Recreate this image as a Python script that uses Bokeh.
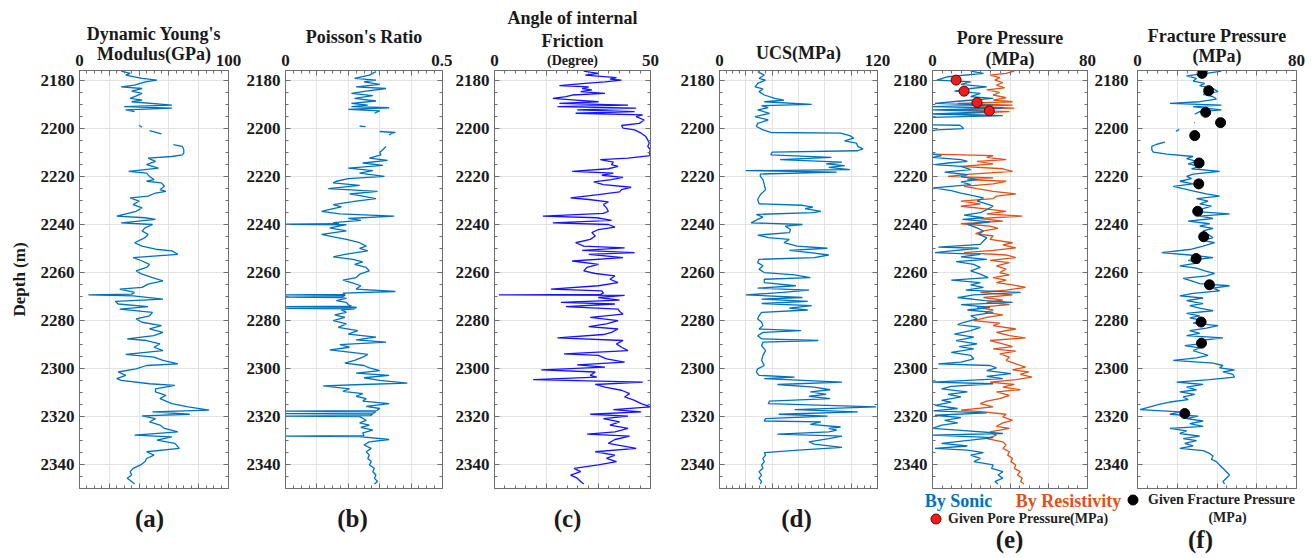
import numpy as np
from bokeh.plotting import figure
from bokeh.layouts import row, column
from bokeh.models import Range1d, LinearAxis, FixedTicker, Label, Legend, LegendItem, Title
from bokeh.embed import file_html
from bokeh.resources import INLINE

GAP = (None, None)

# ---------------- data (depth m, value) ----------------
DEPTH_TICKS = [2180, 2200, 2220, 2240, 2260, 2280, 2300, 2320, 2340]

YOUNG = [(2176.3,28),(2177.2,34),(2177.9,31),(2179.3,42),(2180.0,52),(2180.7,44),(2182.1,37),(2182.8,28),(2183.5,42),(2184.6,35),
 (2185.5,42),(2186.9,37),(2187.6,34),(2188.3,42),(2189.0,35),(2190.4,62),(2191.0,30),(2191.7,62),(2192.4,31),(2193.1,37),
 GAP,(2198.9,40),(2199.6,42),GAP,(2201.0,47),(2202.4,55),GAP,
 (2206.9,63),(2207.6,69),(2209.0,70),(2210.4,70),(2211.1,69),(2211.8,62),(2212.5,46),(2213.8,51),(2215.2,45),(2216.6,53),
 (2218.0,33),(2218.7,45),(2220.1,47),(2221.4,50),(2222.1,45),(2222.8,55),(2224.2,57),(2225.6,54),(2226.3,58),(2227.0,51),
 (2228.3,46),(2229.0,34),(2230.4,40),(2231.8,36),(2233.2,42),(2234.6,38),(2236.6,25),(2237.3,44),(2238.0,51),(2239.4,28),
 (2240.1,49),(2241.5,44),(2242.8,42),(2244.2,46),(2245.6,44),(2247.7,37),(2249.1,42),(2250.4,51),(2251.1,62),(2252.5,66),
 (2253.9,36),(2255.3,42),(2256.7,47),(2258.0,45),(2259.4,38),(2260.8,42),(2262.2,49),(2263.6,56),(2264.9,46),(2266.3,42),
 (2267.0,27),(2268.4,37),(2269.1,35),(2269.4,6),(2269.8,36),(2271.2,56),(2272.1,24),(2273.2,26),(2274.3,46),(2275.3,27),(2276.7,49),
 (2278.1,47),(2279.4,38),(2280.8,42),(2282.2,55),(2283.6,47),(2285.0,56),(2286.4,50),(2287.7,32),(2288.4,45),(2289.8,54),
 (2291.2,50),(2292.6,56),(2294.2,31),(2295.3,50),(2296.7,56),(2298.1,66),(2298.8,45),(2300.2,38),(2301.5,26),(2302.9,31),
 (2304.3,25),(2305.0,28),(2306.4,47),(2307.1,64),(2308.5,51),(2309.8,51),(2311.2,58),(2312.6,54),(2314.7,62),(2316.0,73),
 (2317.4,87),(2318.1,49),(2319.1,74),(2319.8,42),(2320.9,51),(2322.3,47),(2323.6,54),(2325.0,57),(2326.4,66),(2327.8,37),
 (2328.5,62),(2329.9,52),(2331.2,64),(2333.3,67),(2334.7,45),(2336.1,50),(2337.5,45),(2338.8,44),(2340.2,41),(2341.6,36),
 (2343.0,34),(2344.4,35),(2345.7,32),(2347.1,35),(2348.1,37)]

POISSON = [(2176.5,.288),(2177.9,.267),(2179.3,.22),(2180.0,.288),(2180.7,.25),(2181.8,.30),(2182.8,.225),(2183.5,.32),(2184.6,.257),(2185.5,.21),
 (2186.5,.278),(2187.6,.22),(2188.7,.288),(2189.7,.21),(2190.4,.262),(2191.0,.21),(2191.5,.33),(2192.2,.20),(2192.8,.30),(2193.8,.283),
 GAP,(2199.2,.236),(2199.4,.255),GAP,(2201.4,.30),(2201.8,.35),(2202.1,.34),(2202.8,.33),GAP,
 (2207.6,.32),(2209.0,.31),(2210.0,.30),(2211.1,.304),(2212.5,.267),(2213.4,.325),(2214.5,.246),(2215.5,.31),(2216.6,.20),(2217.7,.278),
 (2218.7,.236),(2220.1,.315),(2221.0,.20),(2222.1,.162),(2222.8,.152),(2223.8,.236),(2225.2,.136),(2226.3,.293),(2227.4,.204),(2228.3,.246),
 (2229.3,.288),(2230.4,.225),(2231.8,.152),(2232.8,.178),(2233.5,.152),(2234.6,.115),(2235.7,.173),(2236.6,.346),(2237.6,.20),(2238.4,.24),
 (2239.3,.152),(2239.8,.17),(2240.0,0.0),(2240.2,.194),(2241.5,.141),(2242.8,.194),(2244.2,.115),(2245.3,.152),(2246.3,.194),(2247.7,.236),
 (2249.1,.257),(2250.0,.236),(2251.1,.262),(2252.5,.189),(2253.6,.152),(2254.6,.215),(2255.7,.246),(2256.7,.22),(2258.0,.257),(2259.4,.267),
 (2260.8,.236),(2262.2,.225),(2263.3,.183),(2264.3,.21),(2265.6,.24),(2267.0,.225),(2268.0,.35),(2268.7,.183),(2269.2,.19),(2269.4,0.0),
 (2269.6,.19),(2270.1,.18),(2270.3,0.0),(2270.5,.173),(2270.9,.194),(2271.8,.162),(2272.5,.194),(2273.5,.20),(2274.1,.21),(2274.3,0.0),
 (2274.5,.225),(2274.8,.225),(2275.0,0.0),(2275.2,.22),(2275.7,.178),(2276.7,.194),(2277.7,.157),(2278.8,.189),(2280.1,.152),(2281.5,.194),
 (2282.9,.168),(2284.3,.23),(2285.7,.20),(2287.0,.288),(2288.1,.225),(2289.1,.32),(2290.1,.173),(2291.2,.204),(2292.3,.141),(2293.3,.21),
 (2294.2,.262),(2295.3,.246),(2296.7,.22),(2297.8,.189),(2298.8,.25),(2299.8,.267),(2300.9,.30),(2302.0,.225),(2302.9,.33),(2303.9,.25),
 (2305.0,.30),(2306.1,.388),(2306.7,.246),(2307.3,.12),(2308.5,.204),(2309.6,.183),(2310.5,.246),(2311.6,.225),(2312.6,.257),(2313.6,.246),
 (2314.7,.33),(2315.8,.257),(2316.7,.30),(2317.6,.29),(2317.8,0.0),(2318.0,.288),(2318.6,.28),(2318.8,0.0),(2319.0,.278),(2319.7,.27),
 (2319.9,0.0),(2320.1,.236),(2321.6,.257),(2322.7,.236),(2323.6,.267),(2324.6,.24),(2325.7,.278),(2326.8,.246),(2328.0,.25),(2328.2,0.0),
 (2328.4,.236),(2329.6,.33),(2330.6,.267),(2331.9,.25),(2333.3,.273),(2334.7,.257),(2336.1,.267),(2337.5,.262),(2338.8,.273),(2340.2,.267),
 (2341.6,.283),(2343.0,.278),(2344.4,.288),(2345.7,.283),(2347.1,.293),(2348.1,.283)]

FRICTION = [(2176.3,28.6),(2177.2,33.3),(2177.9,29.1),(2179.0,39.1),(2179.6,37.0),(2180.0,40.7),(2180.7,35.4),(2181.4,29.1),(2182.3,20.8),(2182.8,30.2),
 (2183.5,28.1),(2184.1,31.2),(2184.8,27.6),(2185.5,35.4),(2186.2,24.9),(2186.9,22.9),(2187.6,18.7),(2188.3,26.0),(2189.0,33.3),(2189.7,20.8),
 (2190.4,42.8),(2191.0,20.2),(2191.7,45.4),(2192.4,26.5),(2193.1,44.9),(2193.8,26.0),(2194.5,47.5),(2195.2,45.4),(2196.6,48.0),(2198.0,46.4),
 (2198.9,40.7),(2200.0,41.2),(2200.7,44.9),(2202.1,47.0),(2203.5,48.5),(2204.9,49.1),(2206.2,49.6),(2207.6,49.1),(2209.0,50.0),(2210.4,49.6),
 (2211.4,50.0),(2212.5,42.8),(2213.1,33.9),(2214.1,38.1),(2215.2,37.5),(2215.9,39.6),(2216.9,36.5),(2218.0,24.9),(2218.7,38.1),(2219.6,34.4),
 (2220.5,41.2),(2221.4,37.5),(2222.4,31.8),(2223.5,34.9),(2224.6,43.8),(2225.6,40.7),(2226.5,40.1),(2227.7,33.3),(2229.0,24.4),(2229.7,30.2),
 (2230.7,36.5),(2231.8,34.9),(2233.2,35.9),(2234.6,36.5),(2235.5,34.9),(2236.6,15.5),(2237.3,32.8),(2238.4,37.5),(2239.4,18.7),(2240.1,36.5),
 (2241.2,38.6),(2242.2,33.3),(2243.5,31.2),(2244.9,32.3),(2246.3,30.7),(2247.7,26.0),(2249.1,28.6),(2249.8,41.7),(2250.9,28.1),(2251.8,44.9),
 (2252.5,30.2),(2253.9,41.2),(2255.3,24.9),(2256.7,33.3),(2258.0,29.6),(2259.4,28.6),(2260.5,32.3),(2261.5,38.6),(2262.9,37.0),(2264.3,39.6),
 (2265.6,33.3),(2267.0,18.1),(2267.7,34.4),(2268.7,34.9),(2269.2,34.0),(2269.4,1.4),(2269.6,41.7),(2270.5,33.3),(2271.6,40.1),(2272.5,21.3),(2273.2,38.6),
 (2274.3,22.9),(2275.3,39.6),(2276.3,40.1),(2277.4,41.2),(2278.8,30.7),(2280.1,39.6),(2281.5,35.9),(2282.6,30.2),(2283.6,39.6),(2285.0,37.5),
 (2285.9,34.9),(2287.3,20.2),(2288.4,41.2),(2289.8,39.1),(2291.2,40.7),(2292.6,42.8),(2294.0,22.3),(2294.6,33.3),(2296.0,35.9),(2297.4,41.7),
 (2298.5,26.5),(2299.5,35.4),(2300.6,15.0),(2301.5,32.3),(2302.9,30.7),(2303.6,32.8),(2304.7,12.4),(2305.7,47.5),(2306.7,32.3),(2307.8,35.4),
 (2309.1,40.7),(2310.5,43.3),(2311.9,41.7),(2313.3,44.9),(2314.7,47.0),(2316.0,50.0),(2317.2,38.1),(2318.1,47.0),(2319.1,30.7),(2319.9,42.8),
 (2320.9,34.9),(2322.3,40.1),(2323.6,37.0),(2325.0,42.8),(2326.4,38.6),(2327.4,29.7),(2328.2,43.3),(2329.6,38.6),(2331.2,36.5),(2333.3,45.4),
 (2334.7,32.3),(2336.1,38.6),(2337.5,35.9),(2338.8,39.1),(2340.2,33.3),(2341.6,25.5),(2343.0,27.6),(2344.4,24.4),(2345.7,26.5),(2347.1,27.6),
 (2348.1,28.6)]

UCS = [(2176.5,29),(2177.9,34),(2179.3,30),(2180.0,35),(2181.4,29),(2182.8,27),(2183.7,33),(2184.8,30),(2186.2,34),(2187.6,42),
 (2188.3,49),(2189.0,34),(2190.1,70),(2190.6,32),(2191.5,37),(2192.4,29),(2193.8,38),(2195.2,27),(2196.6,37),(2198.0,29),
 (2199.3,28),(2200.7,33),(2201.8,39),(2202.1,92),(2203.1,99),(2204.2,102),(2205.3,95),(2206.2,104),(2207.6,105),(2208.6,109),
 (2209.4,105),(2210.0,40),(2211.1,39),(2212.2,85),(2213.1,46),(2214.1,93),(2214.9,81),(2215.6,95),(2216.3,83),(2217.3,99),
 (2217.7,20),(2218.3,89),(2219.1,31),(2220.1,31),(2221.4,33),(2223.5,34),(2225.6,35),(2227.7,31),(2229.7,29),(2231.5,30),
 (2232.1,63),(2232.9,71),(2233.5,65),(2234.6,77),(2235.2,71),(2235.9,28),(2237.0,33),(2238.0,29),(2239.4,24),(2240.1,63),
 (2240.8,50),(2242.2,54),(2243.5,53),(2244.5,29),(2245.6,37),(2246.3,53),(2247.7,49),(2249.1,59),(2250.0,82),(2250.9,53),
 (2251.8,69),(2252.8,83),(2253.9,72),(2254.6,30),(2256.0,29),(2257.3,33),(2258.7,30),(2260.1,34),(2261.1,57),(2262.2,69),
 (2262.9,34),(2264.3,34),(2265.6,58),(2266.6,29),(2267.4,68),(2268.4,48),(2269.4,20),(2270.5,63),(2271.2,32),(2272.1,67),
 (2273.0,32),(2273.9,70),(2274.9,53),(2275.7,67),(2276.7,32),(2278.1,30),(2279.4,29),(2280.8,32),(2282.2,33),(2283.6,30),
 (2284.3,62),(2285.0,33),(2286.4,29),(2287.7,32),(2288.4,75),(2289.1,33),(2290.5,32),(2292.6,35),(2294.6,33),(2296.7,32),
 (2298.8,34),(2300.2,29),(2301.5,28),(2302.9,30),(2303.6,57),(2304.3,34),(2305.7,93),(2306.7,44),(2307.8,72),(2308.9,84),
 (2309.8,69),(2310.8,81),(2311.6,68),(2312.6,84),(2313.6,38),(2314.7,37),(2316.0,119),(2317.2,57),(2318.1,105),(2319.1,45),
 (2319.9,82),(2320.9,35),(2321.9,34),(2322.3,77),(2323.3,69),(2324.4,92),(2325.0,83),(2325.7,89),(2326.4,83),(2327.4,44),
 (2328.2,93),(2329.2,83),(2330.6,68),(2331.5,72),(2332.9,93),(2334.0,60),(2335.1,34),(2336.1,35),(2337.5,33),(2338.8,34),
 (2340.2,32),(2341.6,33),(2343.0,30),(2344.4,32),(2345.7,30),(2347.1,32),(2348.1,31)]

PP_SONIC = [(2176.3,19.7),(2177.2,26.3),(2178.6,8),(2180.0,2.2),(2180.7,19.7),(2181.8,14.7),(2182.8,28),(2183.5,19.7),(2184.6,11.3),(2185.5,24.7),
 (2186.9,19.7),(2187.6,31.3),(2188.7,14.7),(2189.7,1.3),(2190.4,31.3),(2191.0,0),(2191.7,36.3),(2192.4,0),(2193.1,31.3),(2194.1,0),
 (2194.8,36.3),(2195.5,0),GAP,
 (2198.6,0),(2198.8,14),(2199.3,15),(2200.2,16),(2200.7,2),(2201.1,0),GAP,
 (2210.8,0),(2211.4,4.7),(2212.2,0),(2213.1,14.7),(2213.8,18),(2214.5,8),(2215.2,1.3),(2215.9,14.7),(2217.3,19.7),(2218.3,6.3),
 (2219.4,18),(2220.1,14.7),(2221.4,23),(2222.4,14.7),(2223.5,19.7),(2224.9,0.5),(2226.0,9.7),(2227.0,14.7),(2227.9,19.7),(2229.0,26.3),
 (2230.4,23),(2231.5,28),(2232.5,31.3),(2233.9,28),(2235.2,24.7),(2236.2,16.3),(2237.3,26.3),(2238.0,15.5),(2239.0,29.7),(2240.1,18),
 (2241.5,23),(2242.8,26.3),(2244.2,23.8),(2245.6,28),(2247.0,26.3),(2248.4,24.7),(2249.5,3),(2250.0,23.8),(2251.1,9.7),(2251.8,1.3),
 (2252.5,24.7),(2253.6,14.7),(2254.6,28),(2255.6,12.2),(2256.7,21.3),(2258.0,24.7),(2259.4,19.7),(2260.8,24.7),(2262.2,28.8),(2263.3,9.7),
 (2264.3,24.7),(2265.2,19.7),(2266.3,26.3),(2267.4,17.2),(2268.4,45.5),(2269.4,21.3),(2270.5,13),(2271.8,27.2),(2272.5,41.3),(2273.5,14.7),
 (2274.6,29.7),(2275.7,18),(2276.7,31.3),(2278.1,19.7),(2279.4,23),(2280.8,16.3),(2281.8,13),(2282.9,24.7),(2284.3,19.7),(2285.7,11.3),
 (2287.0,21.3),(2288.4,12.2),(2289.8,23),(2290.9,13.8),(2291.9,21.3),(2293.3,9.7),(2294.6,19.7),(2296.0,21.3),(2297.4,14.7),(2298.1,3),
 (2298.8,29.7),(2299.8,33),(2300.9,28),(2302.2,40.5),(2303.3,28),(2304.3,36.3),(2305.7,0),(2306.4,31.3),(2307.5,9.7),(2308.5,4.7),
 (2309.8,18),(2310.8,8),(2311.9,14.7),(2313.3,4.7),(2314.0,9.7),(2315.4,1.3),(2316.7,13),(2317.7,0.5),(2318.5,28),(2319.5,1.3),
 (2320.5,14.7),(2321.6,6.3),(2322.7,13),(2323.6,4.7),(2325.0,0),(2325.7,13),(2327.1,36.3),(2327.8,0),(2328.8,31.3),(2329.9,19.7),
 (2331.2,4.7),(2332.3,18),(2333.3,1.3),(2334.0,18),(2335.1,26.3),(2336.1,19.7),(2337.5,24.7),(2338.8,21.3),(2340.2,31.3),(2341.6,30.5),
 (2343.0,36.3),(2344.4,33.8),(2345.7,36.3),(2347.1,32.2),(2348.1,33.8)]

PP_RES = [(2176.3,42.2),(2177.2,38),(2177.9,29.7),(2179.0,34.7),(2180.0,32.2),(2181.0,36.3),(2182.1,33),(2183.2,37.2),(2184.1,28),(2185.1,34.7),
 (2186.2,31.3),(2187.3,38),(2188.3,31.3),(2189.0,41.3),(2189.7,13),(2190.4,41.3),(2191.0,23),(2191.7,42.2),(2192.4,11.3),(2193.1,39.7),
 (2194.2,8),(2194.8,33),GAP,
 (2210.8,0),(2211.4,31.3),(2212.2,28),(2213.1,38),(2213.8,23),(2214.9,31.3),(2215.9,14.7),(2216.9,36.3),(2218.0,41.3),(2219.1,19.7),
 (2220.1,8),(2220.7,31.3),(2221.4,18),(2222.1,38),(2223.2,31.3),(2224.2,16.3),(2225.2,23),(2226.3,31.3),(2227.4,43),(2228.3,33),
 (2229.3,31.3),(2230.4,14.7),(2231.5,24.7),(2232.5,14.7),(2233.5,26.3),(2234.6,38),(2235.7,28),(2236.6,46.3),(2237.6,24.7),(2238.7,36.3),
 (2239.8,14.7),(2240.8,29.7),(2241.7,33.8),(2242.8,26.3),(2243.9,22.2),(2244.9,31.3),(2246.3,29.7),(2247.7,41.3),(2248.6,36.3),(2249.8,43),
 (2250.9,31.3),(2251.8,16.3),(2252.8,38),(2253.9,43),(2255.0,29.7),(2256.0,39.7),(2257.3,33),(2258.7,38),(2260.1,34.7),(2261.1,39.7),
 (2262.2,31.3),(2263.3,38),(2264.3,33),(2265.2,41.3),(2266.3,48),(2267.4,38),(2268.4,24.7),(2269.4,41.3),(2270.5,26.3),(2271.6,36.3),
 (2272.5,28),(2273.5,39.7),(2274.6,23),(2275.7,31.3),(2276.7,27.2),(2277.7,36.3),(2278.8,28),(2280.1,21.3),(2281.2,34.7),(2282.2,31.3),
 (2283.6,43),(2285.0,33),(2286.4,39.7),(2287.3,48),(2288.4,29.7),(2289.8,36.3),(2290.9,41.3),(2291.9,31.3),(2292.8,43),(2294.0,34.7),
 (2295.3,39.7),(2296.7,38),(2298.1,43),(2299.5,48),(2300.6,41.3),(2301.5,49.7),(2302.5,45.3),(2303.6,51.3),(2304.7,43),(2305.7,29.7),
 (2306.7,42.2),(2307.8,36.3),(2308.9,45.3),(2309.8,33),(2311.2,39.7),(2312.6,34.7),(2313.6,28),(2314.7,24.7),(2316.0,31.3),(2317.4,14.7),
 (2318.1,26.3),(2319.1,38),(2320.2,36.3),(2321.6,41.3),(2322.7,36.3),(2324.1,33),(2325.0,39.7),(2326.4,29.7),(2327.8,33),(2329.2,28),
 (2330.6,36.3),(2331.9,38),(2333.3,36.3),(2334.7,39.7),(2336.1,38.8),(2337.5,41.3),(2338.8,40.5),(2340.2,43),(2341.6,42.2),(2343.0,45.3),
 (2344.4,43.8),(2345.7,46.3),(2347.1,45.5),(2348.1,47.2)]

PP_GIVEN_DEPTH = [2180.0, 2184.6, 2189.3, 2192.8]
PP_GIVEN = [12.2, 16.3, 23.0, 29.3]

FP_SONIC = [(2176.3,42.2),(2177.2,34.7),(2178.2,24.7),(2179.3,29.7),(2180.4,28),(2181.4,33.8),(2182.3,31.3),(2183.5,38),(2184.8,40.5),(2185.9,33),
 (2186.9,38),(2187.9,39.7),(2189.0,31.3),(2189.7,16.3),(2190.4,42.2),(2191.0,28),(2191.7,33.8),(2192.4,42.2),(2193.1,31.3),(2194.2,28.8),
 GAP,(2197.6,28.5),(2197.8,28.8),GAP,(2200.5,21.0),(2201.4,19.3),GAP,
 (2205.8,13.8),(2206.7,9.7),(2207.6,7.2),(2209.0,7.2),(2210.0,8),(2210.8,14.7),(2211.8,28),(2212.7,24.7),(2213.8,29.7),(2214.9,25.5),
 (2215.9,31.3),(2216.9,27.2),(2218.0,41.3),(2219.1,28),(2220.1,24.7),(2221.0,27.2),(2222.1,21.3),(2223.2,28),(2224.2,18),(2225.2,23),
 (2226.3,28.8),(2227.4,34.7),(2228.3,41.3),(2229.3,29.7),(2230.4,35.5),(2231.5,31.3),(2232.5,37.2),(2233.5,33),(2234.6,28),(2235.7,46.3),
 (2236.6,31.3),(2237.6,38),(2238.7,25.5),(2239.8,36.3),(2240.8,31.3),(2241.7,38),(2242.8,33),(2244.2,35.5),(2245.6,38),(2246.7,33),
 (2247.7,38.8),(2249.1,33),(2250.4,27.2),(2251.8,12.2),(2252.8,26.3),(2253.9,38),(2255.0,25.5),(2256.0,31.3),(2257.3,21.3),(2258.3,29.7),
 (2259.4,33.8),(2260.5,38.8),(2261.5,34.7),(2262.5,23),(2263.6,27.2),(2264.7,31.3),(2265.6,46.3),(2266.6,38),(2267.7,41.3),(2268.8,28),
 (2269.8,21.3),(2270.7,33),(2271.8,24.7),(2273.0,33),(2273.9,26.3),(2274.9,31.3),(2276.0,38),(2277.1,24.7),(2278.1,31.3),(2279.0,26.3),
 (2280.1,33),(2281.2,28),(2282.2,40.5),(2283.2,34.7),(2284.3,26.3),(2285.4,31.3),(2286.4,24.7),(2287.3,43),(2288.4,31.3),(2289.5,34.7),
 (2290.5,23.8),(2291.5,31.3),(2292.6,28),(2293.7,32.2),(2294.6,35.5),(2295.6,29.7),(2296.7,18),(2297.8,38),(2298.8,43),(2299.8,41.3),
 (2300.6,48.8),(2301.5,43),(2302.5,48),(2303.6,48.8),(2304.7,36.3),(2305.7,19.7),(2306.7,33),(2307.8,24.7),(2308.9,29.7),(2309.8,21.3),
 (2310.8,28.8),(2311.9,23),(2313.0,25.5),(2314.0,16.3),(2314.9,11.3),(2316.0,6.3),(2317.2,1.3),(2318.1,21.3),(2319.1,16.3),(2319.9,30.5),
 (2320.9,24.7),(2321.9,33),(2323.0,26.3),(2324.1,33),(2325.0,16.3),(2326.0,24.7),(2327.1,21.3),(2328.2,31.3),(2329.2,23),(2330.1,29.7),
 (2331.2,23.8),(2332.3,28),(2333.3,21.3),(2334.2,33),(2335.4,36.3),(2336.5,38),(2337.9,37.2),(2338.8,39.7),(2340.2,41.3),(2341.6,43),
 (2343.0,44.7),(2344.4,46.3),(2345.7,44.7),(2347.1,43),(2348.1,43.8)]

FP_GIVEN_DEPTH = [2177.2, 2184.4, 2193.4, 2197.7, 2203.1, 2214.5, 2223.2, 2234.6, 2245.2, 2254.3, 2265.2, 2280.7, 2289.5, 2318.8]
FP_GIVEN = [32.5, 35.8, 34.3, 41.8, 28.8, 31.0, 30.8, 30.3, 33.3, 29.5, 36.2, 32.0, 32.2, 23.8]

CAPTIONS = ["(a)", "(b)", "(c)", "(d)", "(e)", "(f)"]

# ---------------- style ----------------
FONT = "Liberation Serif"
INK = "#1a1a1a"
AXC = "#6e6e6e"
GRIDC = "#e3e3e3"
BLUE = "#0072BD"
ORANGE = "#D95319"
PURE_BLUE = "#1414ff"
PANEL_H = 490
BAND_H = 558 - PANEL_H
TOP = 70
D0, D1 = 2176, 2350

# per panel: x scale, grid, minor step, borders/frame width (px), title lines
LAYOUT = [
    dict(xmax=100, grid=[20, 40, 60, 80], step=5, L=79, W=149, R=15,
         axis_title=("Modulus(GPa)", "18px", -12), titles=[("Dynamic Young's", -7)]),
    dict(xmax=0.5, grid=[0.1, 0.2, 0.3, 0.4], step=0.025, L=40, W=159, R=10,
         axis_title=("Poisson's Ratio", "18px", 5), titles=[]),
    dict(xmax=50, grid=[50 / 3, 100 / 3], step=50 / 15, L=39, W=159, R=27,
         axis_title=("(Degree)", "14px", -16), titles=[("Friction", -2), ("Angle of internal", 4)]),
    dict(xmax=120, grid=[20, 40, 60, 80, 100], step=5, L=41, W=159, R=13,
         axis_title=("UCS(MPa)", "18px", -11), titles=[]),
    dict(xmax=80, grid=[20, 40, 60], step=5, L=40, W=159, R=42,
         axis_title=("(MPa)", "18px", -17), titles=[("Pore Pressure", -5)]),
    dict(xmax=80, grid=[20, 40, 60], step=5, L=6, W=159, R=19,
         axis_title=("(MPa)", "18px", -14), titles=[("Fracture Pressure", -6)]),
]


def cols(pairs):
    d = np.array([np.nan if a is None else a for a, _ in pairs], dtype=float)
    v = np.array([np.nan if b is None else b for _, b in pairs], dtype=float)
    return d, v


def style_axis(ax, labels, standoff=5):
    ax.axis_line_color = AXC
    ax.major_tick_line_color = AXC
    ax.minor_tick_line_color = AXC
    ax.major_tick_in = 5
    ax.major_tick_out = 0
    ax.minor_tick_in = 3
    ax.minor_tick_out = 0
    ax.major_label_text_font = FONT
    ax.major_label_text_font_style = "bold"
    ax.major_label_text_color = INK
    if labels:
        ax.major_label_text_font_size = "17px"
        ax.major_label_standoff = standoff
    else:
        ax.major_label_overrides = {t: "" for t in ax.ticker.ticks}
        ax.major_label_text_font_size = "1px"
        ax.major_label_standoff = 0


figs = []
for i, s in enumerate(LAYOUT):
    xmax = s["xmax"]
    minors = np.arange(0, xmax + 1e-9, s["step"]).tolist()
    p = figure(width=s["L"] + s["W"] + s["R"], height=PANEL_H,
               x_range=Range1d(0, xmax), y_range=Range1d(D1, D0),
               x_axis_location="above", y_axis_location="left",
               output_backend="svg", toolbar_location=None,
               min_border_left=s["L"], min_border_right=s["R"],
               min_border_top=TOP, min_border_bottom=PANEL_H - TOP - 418)
    p.background_fill_color = "white"
    p.border_fill_color = "white"
    p.outline_line_color = AXC
    p.outline_line_width = 1

    top = p.xaxis[0]
    top.ticker = FixedTicker(ticks=[0] + list(s["grid"]) + [xmax], minor_ticks=minors)
    top.major_label_overrides = {float(g): "" for g in s["grid"]}
    style_axis(top, True, 5)
    txt, fsize, stand = s["axis_title"]
    top.axis_label = txt
    top.axis_label_text_font = FONT
    top.axis_label_text_font_style = "bold"
    top.axis_label_text_font_size = fsize
    top.axis_label_text_color = INK
    top.axis_label_standoff = stand
    for line, tstand in s["titles"]:
        p.add_layout(Title(text=line, align="center", text_font=FONT, text_font_style="bold",
                           text_font_size="18px", text_color=INK, standoff=tstand), "above")

    left = p.yaxis[0]
    left.ticker = FixedTicker(ticks=DEPTH_TICKS, minor_ticks=list(range(2180, 2350, 5)))
    style_axis(left, i != 5, 5)
    if i == 0:
        left.axis_label = "Depth (m)"
        left.axis_label_text_font = FONT
        left.axis_label_text_font_style = "bold"
        left.axis_label_text_font_size = "17px"
        left.axis_label_text_color = INK
        left.axis_label_standoff = 9

    right = LinearAxis(ticker=FixedTicker(ticks=DEPTH_TICKS, minor_ticks=list(range(2180, 2350, 5))))
    style_axis(right, i == 4, 7)
    p.add_layout(right, "right")

    below = LinearAxis(ticker=FixedTicker(ticks=list(s["grid"]), minor_ticks=minors))
    style_axis(below, False)
    p.add_layout(below, "below")

    p.xgrid.ticker = FixedTicker(ticks=list(s["grid"]))
    p.ygrid.ticker = FixedTicker(ticks=DEPTH_TICKS)
    p.xgrid.grid_line_color = GRIDC
    p.ygrid.grid_line_color = GRIDC
    figs.append(p)

# curves
d, v = cols(YOUNG)
figs[0].line(v, d, line_color=BLUE, line_width=1.3)
d, v = cols(POISSON)
figs[1].line(v, d, line_color=BLUE, line_width=1.3)
d, v = cols(FRICTION)
figs[2].line(v, d, line_color=PURE_BLUE, line_width=1.3)
d, v = cols(UCS)
figs[3].line(v, d, line_color=BLUE, line_width=1.3)
d, v = cols(PP_RES)
figs[4].line(v, d, line_color=ORANGE, line_width=1.3)
d, v = cols(PP_SONIC)
figs[4].line(v, d, line_color=BLUE, line_width=1.3)
figs[4].scatter(PP_GIVEN, PP_GIVEN_DEPTH, size=10, fill_color="#f01c1c", line_color="#6a0000", line_width=1)
d, v = cols(FP_SONIC)
figs[5].line(v, d, line_color=BLUE, line_width=1.3)
figs[5].scatter(FP_GIVEN, FP_GIVEN_DEPTH, size=10, fill_color="black", line_color="black")

# ---------------- band under the panels: captions and legends ----------------
band = figure(width=1315, height=BAND_H, x_range=Range1d(0, 1315), y_range=Range1d(BAND_H, 0),
              x_axis_type=None, y_axis_type=None, output_backend="svg", toolbar_location=None,
              min_border=0, min_border_left=0, min_border_right=0, min_border_top=0, min_border_bottom=0)
band.outline_line_color = None
band.grid.visible = False
band.background_fill_color = "white"
band.border_fill_color = "white"


def band_text(px, py, t, size, color=INK, align="center"):
    band.add_layout(Label(x=px, y=py - PANEL_H, text=t, text_align=align, text_baseline="middle",
                          text_font=FONT, text_font_style="bold", text_font_size=size, text_color=color))


for (cx, cy), cap in zip([(149, 518), (352, 518), (567, 518), (796, 518), (1009, 539), (1200, 539)], CAPTIONS):
    band_text(cx, cy, cap, "25px")
band_text(958, 500, "By Sonic", "18px", BLUE)
band_text(1068, 500, "By Resistivity", "18px", ORANGE)
band_text(1227, 517, "(MPa)", "14px", "#222222")

# legend keys: styled like the data markers, with no visible point of their own
red_key = band.scatter(np.array([np.nan]), np.array([np.nan]), size=10,
                       fill_color="#f01c1c", line_color="#6a0000", line_width=1)
black_key = band.scatter(np.array([np.nan]), np.array([np.nan]), size=10,
                         fill_color="black", line_color="black")
for key, label, loc, st in [(red_key, "Given Pore Pressure(MPa)", (923, BAND_H - (531 - PANEL_H)), 0),
                            (black_key, "Given Fracture Pressure", (1120, BAND_H - (512 - PANEL_H)), 3)]:
    band.add_layout(Legend(items=[LegendItem(label=label, renderers=[key])], location=loc,
                           padding=0, margin=0, spacing=0, glyph_width=25, glyph_height=25,
                           label_standoff=st, label_text_font=FONT, label_text_font_style="bold",
                           label_text_font_size="14px", label_text_color="#222222",
                           background_fill_alpha=0, border_line_alpha=0))

layout = column(row(*figs), band)
open("out.html", "w").write(file_html(layout, INLINE, title="Geomechanical logs"))
